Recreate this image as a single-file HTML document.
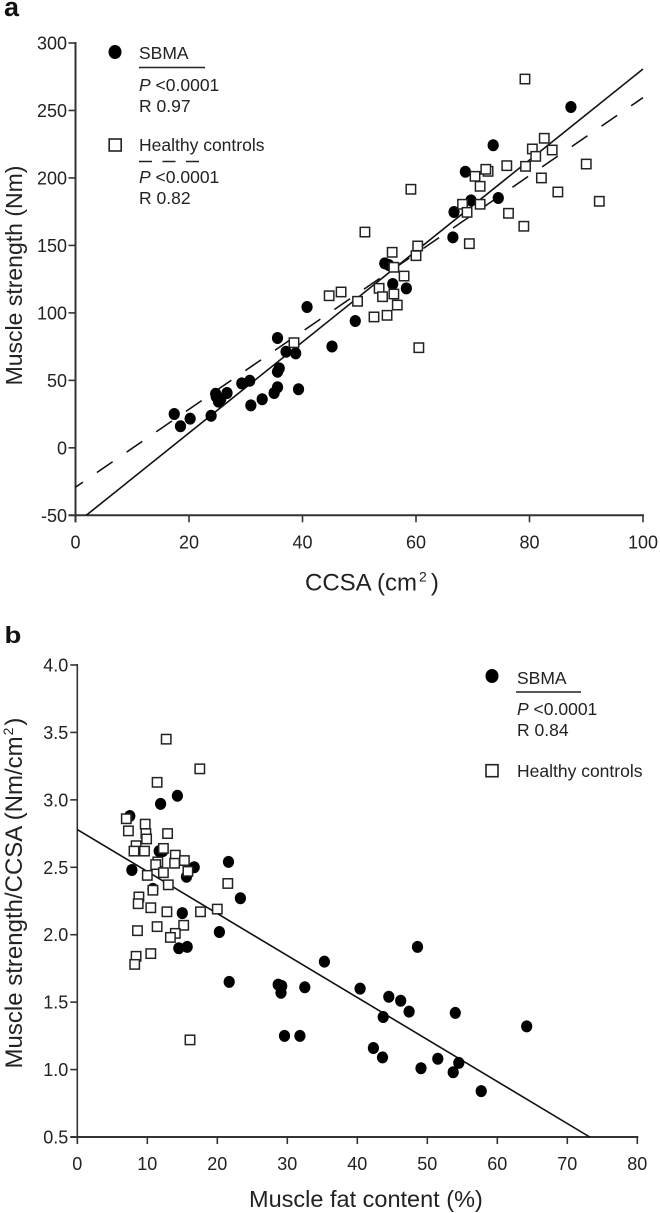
<!DOCTYPE html>
<html lang="en">
<head>
<meta charset="utf-8">
<title>Muscle strength charts</title>
<style>
html,body{margin:0;padding:0;background:#fff;}
body{width:660px;height:1213px;overflow:hidden;}
svg{display:block;}
text{font-family:"Liberation Sans",sans-serif;fill:#222;}
.tick{font-size:18px;}
.leg{font-size:17.5px;}
.title{font-size:23px;}
.panel{font-weight:bold;fill:#111;}
</style>
</head>
<body>
<svg id="fig" width="660" height="1213" viewBox="0 0 660 1213" xmlns="http://www.w3.org/2000/svg">
  <g id="chart-a"></g>
  <g id="chart-b"></g>

  <text class="panel" font-size="27" x="4" y="16">a</text>
  <text class="title" x="22" y="275.500" text-anchor="middle" transform="rotate(-90 22 275.500)">Muscle strength (Nm)</text>
  <text class="title" font-size="24" style="font-size:24px" x="305" y="590.500">CCSA (cm<tspan font-size="14" style="font-size:14px" dy="-9" dx="2">2</tspan><tspan dy="9" dx="4">)</tspan></text>

  <g>
    <ellipse cx="115" cy="52" rx="6.5" ry="7" fill="#000"/>
    <text class="leg" x="139" y="59">SBMA</text>
    <line x1="139" y1="67.5" x2="205" y2="67.5" stroke="#222" stroke-width="1.5"/>
    <text class="leg" x="139" y="91"><tspan font-style="italic">P</tspan> &lt;0.0001</text>
    <text class="leg" x="139" y="112">R 0.97</text>
    <rect x="109.200" y="139" width="12" height="12" fill="#fff" stroke="#222" stroke-width="1.6"/>
    <text class="leg" x="139" y="151">Healthy controls</text>
    <line x1="139" y1="161.5" x2="199" y2="161.5" stroke="#222" stroke-width="1.5" stroke-dasharray="13 10.5"/>
    <text class="leg" x="139" y="183"><tspan font-style="italic">P</tspan> &lt;0.0001</text>
    <text class="leg" x="139" y="204">R 0.82</text>
  </g>

  <text class="panel" font-size="25" transform="translate(4.500 643) scale(1.1 0.92)">b</text>
  <text class="title" style="font-size:24px" x="22" y="893" text-anchor="middle" transform="rotate(-90 22 893)">Muscle strength/CCSA (Nm/cm<tspan font-size="14" style="font-size:14px" dy="-9" dx="1">2</tspan><tspan dy="9" dx="2">)</tspan></text>
  <text class="title" style="font-size:23.500px" x="249" y="1207">Muscle fat content (%)</text>

  <g>
    <ellipse cx="492" cy="676" rx="6.5" ry="7" fill="#000"/>
    <text class="leg" x="517" y="684">SBMA</text>
    <line x1="516" y1="692" x2="581" y2="692" stroke="#222" stroke-width="1.5"/>
    <text class="leg" x="517" y="715"><tspan font-style="italic">P</tspan> &lt;0.0001</text>
    <text class="leg" x="517" y="736">R 0.84</text>
    <rect x="486" y="764.700" width="12" height="12" fill="#fff" stroke="#222" stroke-width="1.6"/>
    <text class="leg" x="517" y="777">Healthy controls</text>
  </g>
</svg>
<script>
// Panel a data
const aXTicks = [0, 20, 40, 60, 80, 100];
const aYTicks = [-50, 0, 50, 100, 150, 200, 250, 300];
const aSbmaX = [17.4,18.5,20.2,23.9,24.7,24.8,25.2,25.6,26.7,29.3,30.7,30.9,32.9,35,35.6,35.9,35.6,35.6,37.1,38.8,39.3,40.8,45.2,49.3,54.5,55.2,55.9,58.3,66.5,66.7,69.7,68.7,74.5,73.6,87.3];
const aSbmaY = [25.1,16,21.6,23.8,40.1,37.9,34.2,36.2,40.6,47.8,49.7,31.5,36,40.6,44.9,58.9,56.4,81.4,71.2,70,43.4,104.4,75.1,94,136.7,135.5,121.4,118.2,156,174.8,183.4,204.6,185.1,224.2,252.6];
const aCtrlX = [79.2,82.6,80.5,81.1,84,79.3,76,90,82.1,85,92.3,76.3,79,72.7,72.3,70.4,71.3,71.3,68.2,69,59.1,69.4,51,60.3,60,55.8,56.1,57.9,53.5,54.1,56.1,56.7,54.9,52.6,49.7,46.8,44.7,60.5,38.5];
const aCtrlY = [273.3,229.4,221.5,216,220.7,208.6,209.1,210.3,200,189.6,182.7,173.8,164.2,204.9,206.4,201.2,193.8,180.5,180.5,174.5,191.6,151.3,159.9,149.6,142.4,144.9,133.8,127.3,118.2,112,114,105.8,98.2,97,108.6,115.5,112.7,74.2,77.9];
const aSolidX = [1.9, 100];
const aSolidY = [-50, 280.7];
const aDashX = [0, 100];
const aDashY = [-29.2, 259.5];

// Panel b data
const bXTicks = [0, 10, 20, 30, 40, 50, 60, 70, 80];
const bYTicks = [0.5, 1.0, 1.5, 2.0, 2.5, 3.0, 3.5, 4.0];
const bSbmaX = [7.5,11.9,14.3,11.7,12.2,16.7,15.6,7.8,21.6,23.3,10.8,15,20.3,14.5,15.7,21.7,48.6,35.3,28.7,29.2,29.1,32.5,40.4,44.5,46.2,47.4,54,43.7,64.2,29.6,31.8,42.3,43.6,51.5,54.5,53.7,49.1,57.7];
const bSbmaY = [2.88,2.97,3.03,2.62,2.62,2.5,2.43,2.48,2.54,2.27,2.34,2.16,2.02,1.9,1.91,1.65,1.91,1.8,1.63,1.62,1.57,1.61,1.6,1.54,1.51,1.43,1.42,1.39,1.32,1.25,1.25,1.16,1.09,1.08,1.05,0.98,1.01,0.84];
const bCtrlX = [12.7,17.5,11.4,7,7.3,9.7,9.8,9.9,12.9,8.4,8.1,9.6,12.3,14,15.3,11.5,11.2,13.9,15.8,12.3,10,21.5,13,10.8,8.8,8.7,10.5,12.8,17.6,20,15.2,11.4,8.6,14,13.3,10.5,8.4,8.2,16.1];
const bCtrlY = [3.45,3.23,3.13,2.86,2.77,2.82,2.75,2.71,2.75,2.66,2.62,2.62,2.64,2.59,2.55,2.54,2.52,2.53,2.47,2.46,2.44,2.38,2.37,2.33,2.28,2.23,2.2,2.17,2.17,2.19,2.07,2.06,2.03,2.01,1.98,1.86,1.84,1.78,1.22];
const bFitX = [0, 73.2];
const bFitY = [2.78, 0.5];

const NS = 'http://www.w3.org/2000/svg';
const INK = '#333';

function make(parent, tag, attrs) {
  const el = document.createElementNS(NS, tag);
  for (const k in attrs) el.setAttribute(k, attrs[k]);
  parent.appendChild(el);
  return el;
}
function scale(d0, d1, r0, r1) {
  return v => r0 + (v - d0) * (r1 - r0) / (d1 - d0);
}

function drawAxes(g, sx, sy, xTicks, yTicks, xLabelY, decimals, yAxisWidth, labelGap) {
  const x0 = sx(xTicks[0]);
  const y0 = sy(yTicks[0]);
  const yAxis = make(g, 'line', {x1: x0, y1: sy(yTicks[yTicks.length - 1]) - 1, x2: x0, y2: y0 + 7, stroke: INK, 'stroke-width': yAxisWidth});
  
  
  const xAxis = make(g, 'line', {x1: x0 - 7, y1: y0, x2: sx(xTicks[xTicks.length - 1]) + 1, y2: y0, stroke: INK, 'stroke-width': 2});
  
  
  xTicks.forEach(v => {
    const t = make(g, 'line', {x1: sx(v), y1: y0, x2: sx(v), y2: y0 + 7, stroke: INK, 'stroke-width': 1.6});
    
    
    const l = make(g, 'text', {class: 'tick', x: sx(v), y: xLabelY, 'text-anchor': 'middle'});
    l.textContent = String(v);
    
    
  });
  yTicks.forEach(v => {
    const t = make(g, 'line', {x1: x0 - 7, y1: sy(v), x2: x0, y2: sy(v), stroke: INK, 'stroke-width': 1.6});
    
    
    const l = make(g, 'text', {class: 'tick', x: x0 - labelGap, y: sy(v) + 6.5, 'text-anchor': 'end'});
    l.textContent = v.toFixed(decimals);
    
    
  });
}
function drawLine(g, sx, sy, xs, ys, name, extra) {
  const attrs = Object.assign({x1: sx(xs[0]), y1: sy(ys[0]), x2: sx(xs[1]), y2: sy(ys[1]), stroke: '#111', 'stroke-width': 1.6}, extra || {});
  const l = make(g, 'line', attrs);
  
  
}
function drawCircles(g, sx, sy, xs, ys, name) {
  xs.forEach((v, i) => {
    const c = make(g, 'ellipse', {cx: sx(v), cy: sy(ys[i]), rx: 5.6, ry: 6, fill: '#000'});
    
    
  });
}
function drawSquares(g, sx, sy, xs, ys, name) {
  xs.forEach((v, i) => {
    const r = make(g, 'rect', {x: sx(v) - 4.7, y: sy(ys[i]) - 4.7, width: 9.4, height: 9.4, fill: '#fff', stroke: '#222', 'stroke-width': 1.5});
    
    
  });
}

// Panel a
const gA = document.getElementById('chart-a');
const ax = scale(0, 100, 75.5, 643);
const ay = scale(-50, 300, 515.3, 43);
drawAxes(gA, ax, ay, aXTicks, aYTicks, 548.5, 0, 2, 8.5);
drawLine(gA, ax, ay, aSolidX, aSolidY, 'a-sbma-regression-line');
drawLine(gA, ax, ay, aDashX, aDashY, 'a-controls-regression-line', {'stroke-dasharray': '19 17', 'stroke-dashoffset': 10});
drawCircles(gA, ax, ay, aSbmaX, aSbmaY, 'a-sbma-point');
drawSquares(gA, ax, ay, aCtrlX, aCtrlY, 'a-control-point');

// Panel b
const gB = document.getElementById('chart-b');
const bx = scale(0, 80, 77.3, 637.3);
const by = scale(0.5, 4, 1137, 665);
drawAxes(gB, bx, by, bXTicks, bYTicks, 1170, 1, 1.6, 9);
drawLine(gB, bx, by, bFitX, bFitY, 'b-sbma-regression-line');
drawCircles(gB, bx, by, bSbmaX, bSbmaY, 'b-sbma-point');
drawSquares(gB, bx, by, bCtrlX, bCtrlY, 'b-control-point');
</script>
</body>
</html>
